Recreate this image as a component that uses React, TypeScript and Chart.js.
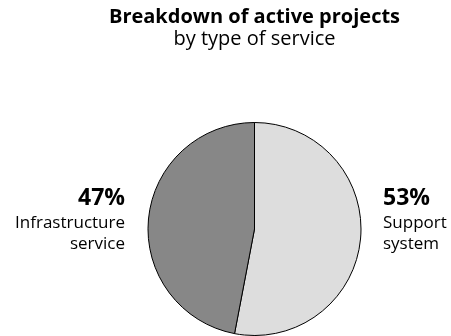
import React, { useEffect, useRef } from "react";
import { Chart, registerables } from "chart.js";

Chart.register(...registerables);

const categories = ["Support system", "Infrastructure service"];
const labelLines = [["Support", "system"], ["Infrastructure", "service"]];
const values = [53, 47];
const colors = ["#dddddd", "#878787"];
const titleText = "Breakdown of active projects";
const subtitleText = "by type of service";

const FONT = "'Open Sans', sans-serif";

const sideLabels = {
  id: "sideLabels",
  afterDraw(chart: any) {
    const meta = chart.getDatasetMeta(0);
    const ctx = chart.ctx;
    const total = values.reduce((a, b) => a + b, 0);
    ctx.save();
    ctx.fillStyle = "#000";
    ctx.textBaseline = "alphabetic";
    meta.data.forEach((arc: any, i: number) => {
      const { x, y, outerRadius, startAngle, endAngle } = arc.getProps(
        ["x", "y", "outerRadius", "startAngle", "endAngle"],
        true
      );
      const mid = (startAngle + endAngle) / 2;
      const right = Math.cos(mid) >= 0;
      const tx = right ? x + outerRadius + 22 : x - outerRadius - 23;
      ctx.textAlign = right ? "left" : "right";
      const pct = Math.round((values[i] / total) * 100) + "%";
      ctx.font = `bold 23px ${FONT}`;
      ctx.fillText(pct, tx, y - 24);
      ctx.font = `17px ${FONT}`;
      labelLines[i].forEach((line, j) => {
        ctx.fillText(line, tx, y - 1 + j * 21);
      });
    });
    ctx.restore();
  },
};

export default function App() {
  const ref = useRef<HTMLCanvasElement>(null);
  useEffect(() => {
    const chart = new Chart(ref.current!, {
      type: "pie",
      data: {
        labels: categories,
        datasets: [
          {
            data: values,
            backgroundColor: colors,
            borderColor: "#000",
            borderWidth: 1,
          },
        ],
      },
      options: {
        animation: false,
        responsive: true,
        maintainAspectRatio: false,
        layout: { padding: { left: 58, right: 0, top: 0, bottom: 0 } },
        plugins: {
          legend: { display: false },
          tooltip: { enabled: false },
          title: {
            display: true,
            text: titleText,
            color: "#000",
            font: { family: FONT, size: 20, weight: "bold", lineHeight: 1.15 },
            padding: { top: 6, bottom: 0 },
          },
          subtitle: {
            display: true,
            text: subtitleText,
            color: "#000",
            font: { family: FONT, size: 20, lineHeight: 1.0 },
            padding: { top: 0, bottom: 73 },
          },
        },
      },
      plugins: [sideLabels],
    });
    return () => chart.destroy();
  }, []);
  return (
    <div style={{ position: "fixed", left: 0, top: 0, width: 451, height: 336 }}>
      <canvas ref={ref} />
    </div>
  );
}
